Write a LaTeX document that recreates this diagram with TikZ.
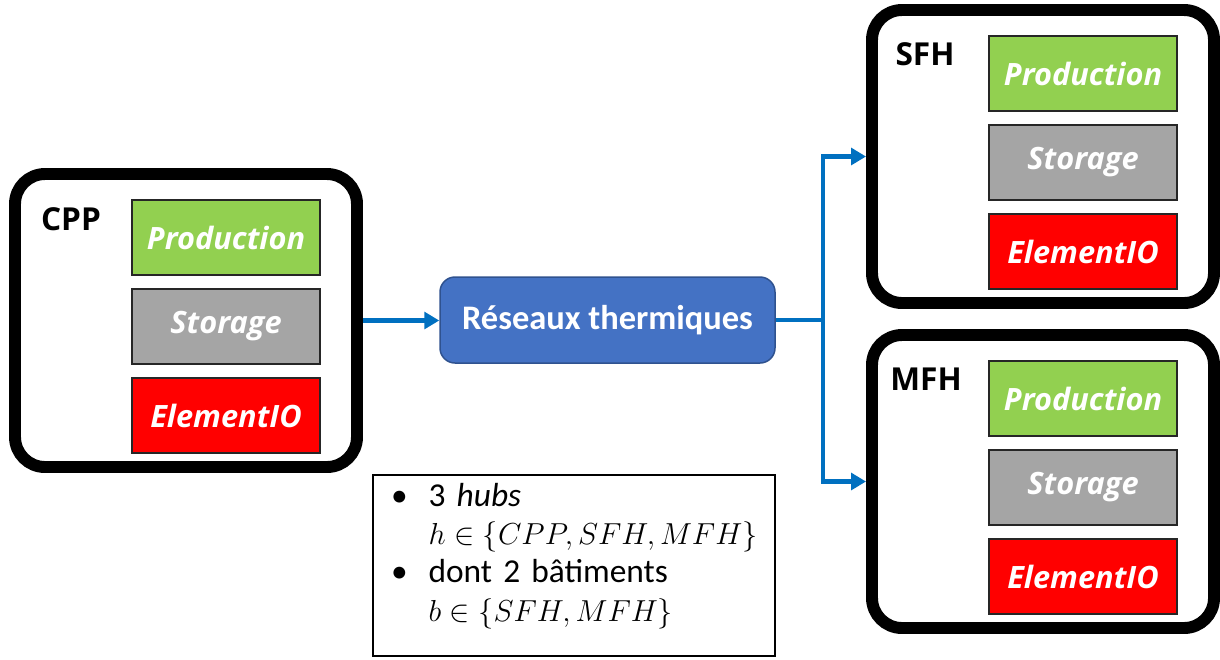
\documentclass[tikz,border=0pt]{standalone}
\usepackage{fontspec}
\setmainfont{Carlito}
\newfontfamily\boxfont{Open Sans}
\usetikzlibrary{arrows.meta,positioning}
\definecolor{prodcol}{RGB}{146,208,80}
\definecolor{storcol}{RGB}{165,165,165}
\definecolor{iocol}{RGB}{255,0,0}
\definecolor{netcol}{RGB}{68,114,196}
\definecolor{netline}{RGB}{47,82,143}
\definecolor{flowcol}{RGB}{0,112,192}

\begin{document}
\begin{tikzpicture}[
  hub/.style={draw, line width=6.8pt, rounded corners=0.6cm, minimum width=6.84cm, minimum height=5.86cm},
  hubname/.style={font=\boxfont\bfseries\fontsize{18}{22}\selectfont},
  part/.style={draw=black!85, line width=0.85pt, minimum width=3.76cm, minimum height=1.5cm, text=white, font=\boxfont\bfseries\itshape\fontsize{17.5}{22}\selectfont},
  net/.style={draw=netline, fill=netcol, line width=0.85pt, rounded corners=0.3cm, minimum width=6.7cm, minimum height=1.72cm, text=white, font=\bfseries\fontsize{19.6}{24}\selectfont},
  flow/.style={draw=flowcol, line width=2.3pt, -{Triangle[length=8.5pt,width=9.5pt]}},
  note/.style={draw, line width=0.85pt, outer sep=0pt, inner xsep=0.36cm, inner ysep=0pt, text width=7.32cm, align=left, text height=0.62cm, text depth=3.0cm, font=\fontsize{19}{21.9}\selectfont},
]
  \useasboundingbox (0,0) rectangle (24.4,-13.18);

  % Hub: CPP
  \begin{scope}[shift={(0.30,-3.48)}]
    \node[hub] (cpp) at (3.42,-2.93) {};
    \node[hubname] (cppname) at (1.12,-0.9) {CPP};
    \node[part, fill=prodcol] (cppprod) at (4.22,-1.27) {Production};
    \node[part, fill=storcol, below=0.25cm of cppprod] (cppstor) {Storage};
    \node[part, fill=iocol, below=0.25cm of cppstor] (cppio) {ElementIO};
  \end{scope}

  % Hub: SFH
  \begin{scope}[shift={(17.44,-0.20)}]
    \node[hub] (sfh) at (3.42,-2.93) {};
    \node[hubname] (sfhname) at (1.06,-0.88) {SFH};
    \node[part, fill=prodcol] (sfhprod) at (4.22,-1.27) {Production};
    \node[part, fill=storcol, below=0.25cm of sfhprod] (sfhstor) {Storage};
    \node[part, fill=iocol, below=0.25cm of sfhstor] (sfhio) {ElementIO};
  \end{scope}

  % Hub: MFH
  \begin{scope}[shift={(17.44,-6.70)}]
    \node[hub] (mfh) at (3.42,-2.93) {};
    \node[hubname] (mfhname) at (1.08,-0.88) {MFH};
    \node[part, fill=prodcol] (mfhprod) at (4.22,-1.27) {Production};
    \node[part, fill=storcol, below=0.25cm of mfhprod] (mfhstor) {Storage};
    \node[part, fill=iocol, below=0.25cm of mfhstor] (mfhio) {ElementIO};
  \end{scope}

  % thermal network
  \node[net] (net) at (12.15,-6.40) {Réseaux thermiques};
  \draw[flow] (cpp.east) -- (cpp.east -| net.west);
  \draw[flow] (net.east) -- ++(0.94,0) coordinate (split) |- (sfh.west);
  \draw[flow] (split) |- (mfh.west);

  % hubs and buildings
  \node[note, anchor=north west] (sets) at (7.46,-9.50) {%
    \begin{tabular}[t]{@{}l@{\hspace{0.42cm}}l@{}}
      \textbullet & 3 \textit{hubs}\\
                  & {\fontsize{17.5}{21.9}\selectfont $h \in \{CPP, SFH, MFH\}$}\\
      \textbullet & dont 2 bâtiments\\
                  & {\fontsize{17.5}{21.9}\selectfont $b \in \{SFH, MFH\}$}
    \end{tabular}};
\end{tikzpicture}
\end{document}
